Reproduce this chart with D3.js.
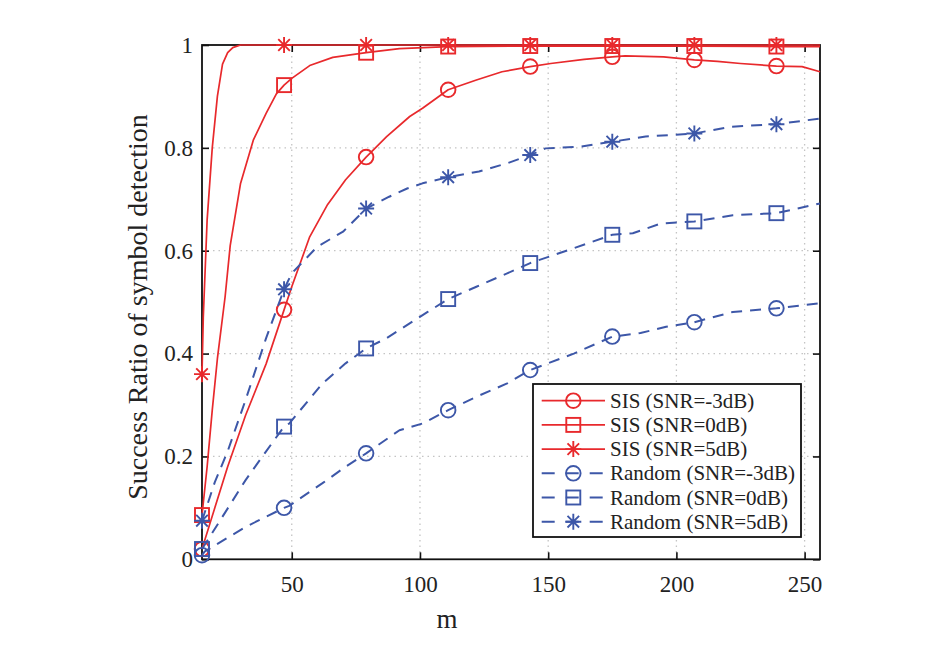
<!DOCTYPE html>
<html>
<head>
<meta charset="utf-8">
<script src="https://cdn.jsdelivr.net/npm/d3@7"></script>
<style>
  html, body { margin: 0; padding: 0; background: #fff; }
  svg { display: block; }
  svg text { font-family: "Liberation Serif", "DejaVu Serif", serif !important; fill: #222; }
</style>
</head>
<body>
<svg id="chart" width="939" height="649"></svg>
<script>
// ---------------- data ----------------
const mTicks = [50, 100, 150, 200, 250];
const yTicks = [0, 0.2, 0.4, 0.6, 0.8, 1];
const yTickLabels = ["0", "0.2", "0.4", "0.6", "0.8", "1"];
const markerM = [15, 47, 79, 111, 143, 175, 207, 239];

const sisN3_m = [15, 20, 25, 32, 40, 47, 50, 57, 64, 71, 79, 87, 96, 101, 111, 122, 132, 143, 151, 164, 175, 180, 195, 207, 216, 225, 239, 249, 256];
const sisN3_v = [0.02, 0.10, 0.18, 0.28, 0.38, 0.485, 0.53, 0.627, 0.69, 0.738, 0.782, 0.822, 0.861, 0.877, 0.913, 0.932, 0.948, 0.958, 0.964, 0.972, 0.977, 0.979, 0.977, 0.971, 0.968, 0.964, 0.959, 0.958, 0.948];

const sis0_m = [15, 17, 19, 21, 24, 26, 30, 35, 40, 44, 47, 50, 57, 66, 79, 92, 111, 143, 175, 207, 239, 256];
const sis0_v = [0.086, 0.18, 0.29, 0.39, 0.51, 0.61, 0.73, 0.815, 0.867, 0.905, 0.922, 0.935, 0.96, 0.976, 0.985, 0.993, 0.997, 0.998, 0.998, 0.998, 0.997, 0.997];

const sis5_m = [15, 15.5, 17, 19, 21, 23, 25, 27, 30, 47, 79, 111, 143, 175, 207, 239, 256];
const sis5_v = [0.36, 0.47, 0.66, 0.80, 0.90, 0.963, 0.985, 0.995, 1, 1, 1, 1, 1, 1, 1, 1, 1];

const rndN3_m = [15, 16, 32, 47, 49, 62, 71, 79, 92, 101, 111, 122, 134, 143, 160, 175, 186, 196, 207, 222, 239, 256];
const rndN3_v = [0.008, 0.015, 0.063, 0.10, 0.104, 0.148, 0.18, 0.206, 0.251, 0.264, 0.29, 0.316, 0.342, 0.368, 0.40, 0.433, 0.44, 0.452, 0.461, 0.481, 0.488, 0.498];

const rnd0_m = [15, 23, 32, 40, 47, 49, 62, 71, 79, 87, 103, 111, 122, 134, 143, 160, 175, 183, 194, 207, 222, 239, 256];
const rnd0_v = [0.02, 0.083, 0.154, 0.21, 0.258, 0.264, 0.342, 0.381, 0.41, 0.43, 0.481, 0.506, 0.53, 0.556, 0.576, 0.605, 0.631, 0.634, 0.653, 0.657, 0.669, 0.673, 0.692];

const rnd5_m = [15, 20, 25, 32, 40, 47, 50, 60, 70, 79, 88, 95, 101, 111, 123, 134, 143, 149, 162, 175, 188, 207, 221, 239, 256];
const rnd5_v = [0.075, 0.15, 0.21, 0.31, 0.43, 0.525, 0.556, 0.608, 0.637, 0.682, 0.705, 0.721, 0.731, 0.743, 0.754, 0.77, 0.786, 0.799, 0.802, 0.812, 0.822, 0.828, 0.841, 0.846, 0.857];

const seriesNames = ["SIS (SNR=-3dB)", "SIS (SNR=0dB)", "SIS (SNR=5dB)", "Random (SNR=-3dB)", "Random (SNR=0dB)", "Random (SNR=5dB)"];

// ---------------- styles ----------------
const RED = "#e8292c", BLUE = "#3d57a8";
const FONT = '"Liberation Serif", "DejaVu Serif", serif';
const series = [
  { name: seriesNames[0], m: sisN3_m, v: sisN3_v, color: RED, dash: null, marker: "circle", lw: 1.7 },
  { name: seriesNames[1], m: sis0_m, v: sis0_v, color: RED, dash: null, marker: "square", lw: 1.7 },
  { name: seriesNames[2], m: sis5_m, v: sis5_v, color: RED, dash: null, marker: "star", lw: 1.7 },
  { name: seriesNames[3], m: rndN3_m, v: rndN3_v, color: BLUE, dash: "11,8", marker: "circle", lw: 2 },
  { name: seriesNames[4], m: rnd0_m, v: rnd0_v, color: BLUE, dash: "11,8", marker: "square", lw: 2 },
  { name: seriesNames[5], m: rnd5_m, v: rnd5_v, color: BLUE, dash: "11,8", marker: "star", lw: 2 }
];

const svg = d3.select("#chart");
const L = 202, R = 820, T = 45, B = 559.3;
const x = d3.scaleLinear().domain([15, 256]).range([L, R]);
const y = d3.scaleLinear().domain([0, 1]).range([B, T]);

// grid
const grid = svg.append("g");
grid.selectAll("line.gx").data(mTicks).enter().append("line")
  .attr("x1", d => x(d)).attr("x2", d => x(d)).attr("y1", T).attr("y2", B)
  .attr("stroke", "#c4c4c4").attr("stroke-width", 1.3).attr("stroke-dasharray", "1.5,4");
grid.selectAll("line.gy").data(yTicks.filter(d => d > 0 && d < 1)).enter().append("line")
  .attr("y1", d => y(d)).attr("y2", d => y(d)).attr("x1", L).attr("x2", R)
  .attr("stroke", "#c4c4c4").attr("stroke-width", 1.3).attr("stroke-dasharray", "1.5,4");

// axes
function styleAxis(g) {
  g.attr("font-family", FONT);
  g.select(".domain").remove();
  g.selectAll(".tick line").attr("stroke", "#111").attr("stroke-width", 1.6);
  g.selectAll(".tick text").style("font-size", "23px").style("font-family", FONT).attr("fill", "#222");
}
svg.append("g").attr("transform", `translate(0,${B})`)
  .call(d3.axisBottom(x).tickValues(mTicks).tickSize(-7).tickPadding(16))
  .call(styleAxis);
svg.append("g").attr("transform", `translate(0,${T})`)
  .call(d3.axisTop(x).tickValues(mTicks).tickSize(-7).tickFormat(""))
  .call(styleAxis);
svg.append("g").attr("transform", `translate(${L},0)`)
  .call(d3.axisLeft(y).tickValues(yTicks).tickSize(-7).tickPadding(9).tickFormat((d, i) => yTickLabels[i]))
  .call(styleAxis);
svg.append("g").attr("transform", `translate(${R},0)`)
  .call(d3.axisRight(y).tickValues(yTicks).tickSize(-7).tickFormat(""))
  .call(styleAxis);

svg.append("rect").attr("x", L).attr("y", T).attr("width", R - L).attr("height", B - T)
  .attr("fill", "none").attr("stroke", "#111").attr("stroke-width", 1.8);

// axis labels
svg.append("text").attr("x", x(110.5)).attr("y", 628).attr("text-anchor", "middle")
  .style("font-size", "27px").style("font-family", FONT).text("m");
svg.append("text").attr("transform", `translate(147,${307}) rotate(-90)`).attr("text-anchor", "middle")
  .style("font-size", "28px").style("font-family", FONT).text("Success Ratio of symbol detection");

// markers
function drawMarker(g, type, cx, cy, color, sw) {
  if (type === "circle") {
    g.append("circle").attr("cx", cx).attr("cy", cy).attr("r", 7.3)
      .attr("fill", "none").attr("stroke", color).attr("stroke-width", sw);
  } else if (type === "square") {
    g.append("rect").attr("x", cx - 7).attr("y", cy - 7).attr("width", 14).attr("height", 14)
      .attr("fill", "none").attr("stroke", color).attr("stroke-width", sw);
  } else {
    const a = 8, b = 5.8;
    const p = `M${cx - a},${cy}L${cx + a},${cy}M${cx},${cy - a}L${cx},${cy + a}` +
      `M${cx - b},${cy - b}L${cx + b},${cy + b}M${cx - b},${cy + b}L${cx + b},${cy - b}`;
    g.append("path").attr("d", p).attr("fill", "none").attr("stroke", color).attr("stroke-width", sw);
  }
}

const line = d3.line().x(d => x(d[0])).y(d => y(d[1]));
const dataG = svg.append("g");
series.forEach(s => {
  const pts = s.m.map((m, i) => [m, s.v[i]]);
  dataG.append("path").attr("d", line(pts)).attr("fill", "none")
    .attr("stroke", s.color).attr("stroke-width", s.lw)
    .attr("stroke-dasharray", s.dash).attr("stroke-linejoin", "round");
  const mg = dataG.append("g");
  pts.filter(p => markerM.includes(p[0])).forEach(p => drawMarker(mg, s.marker, x(p[0]), y(p[1]), s.color, 1.9));
});

// legend
const lg = svg.append("g");
lg.append("rect").attr("x", 533).attr("y", 384).attr("width", 268).attr("height", 153)
  .attr("fill", "#fff").attr("stroke", "#111").attr("stroke-width", 1.8);
series.forEach((s, i) => {
  const cy = 400.7 + i * 24.2;
  lg.append("line").attr("x1", 541.7).attr("x2", 605).attr("y1", cy).attr("y2", cy)
    .attr("stroke", s.color).attr("stroke-width", s.lw)
    .attr("stroke-dasharray", s.dash ? "13,11" : null);
  drawMarker(lg, s.marker, 573.3, cy, s.color, 1.9);
  lg.append("text").attr("x", 610).attr("y", cy + 7).style("font-size", "21px").style("font-family", FONT).text(s.name);
});
</script>
</body>
</html>
